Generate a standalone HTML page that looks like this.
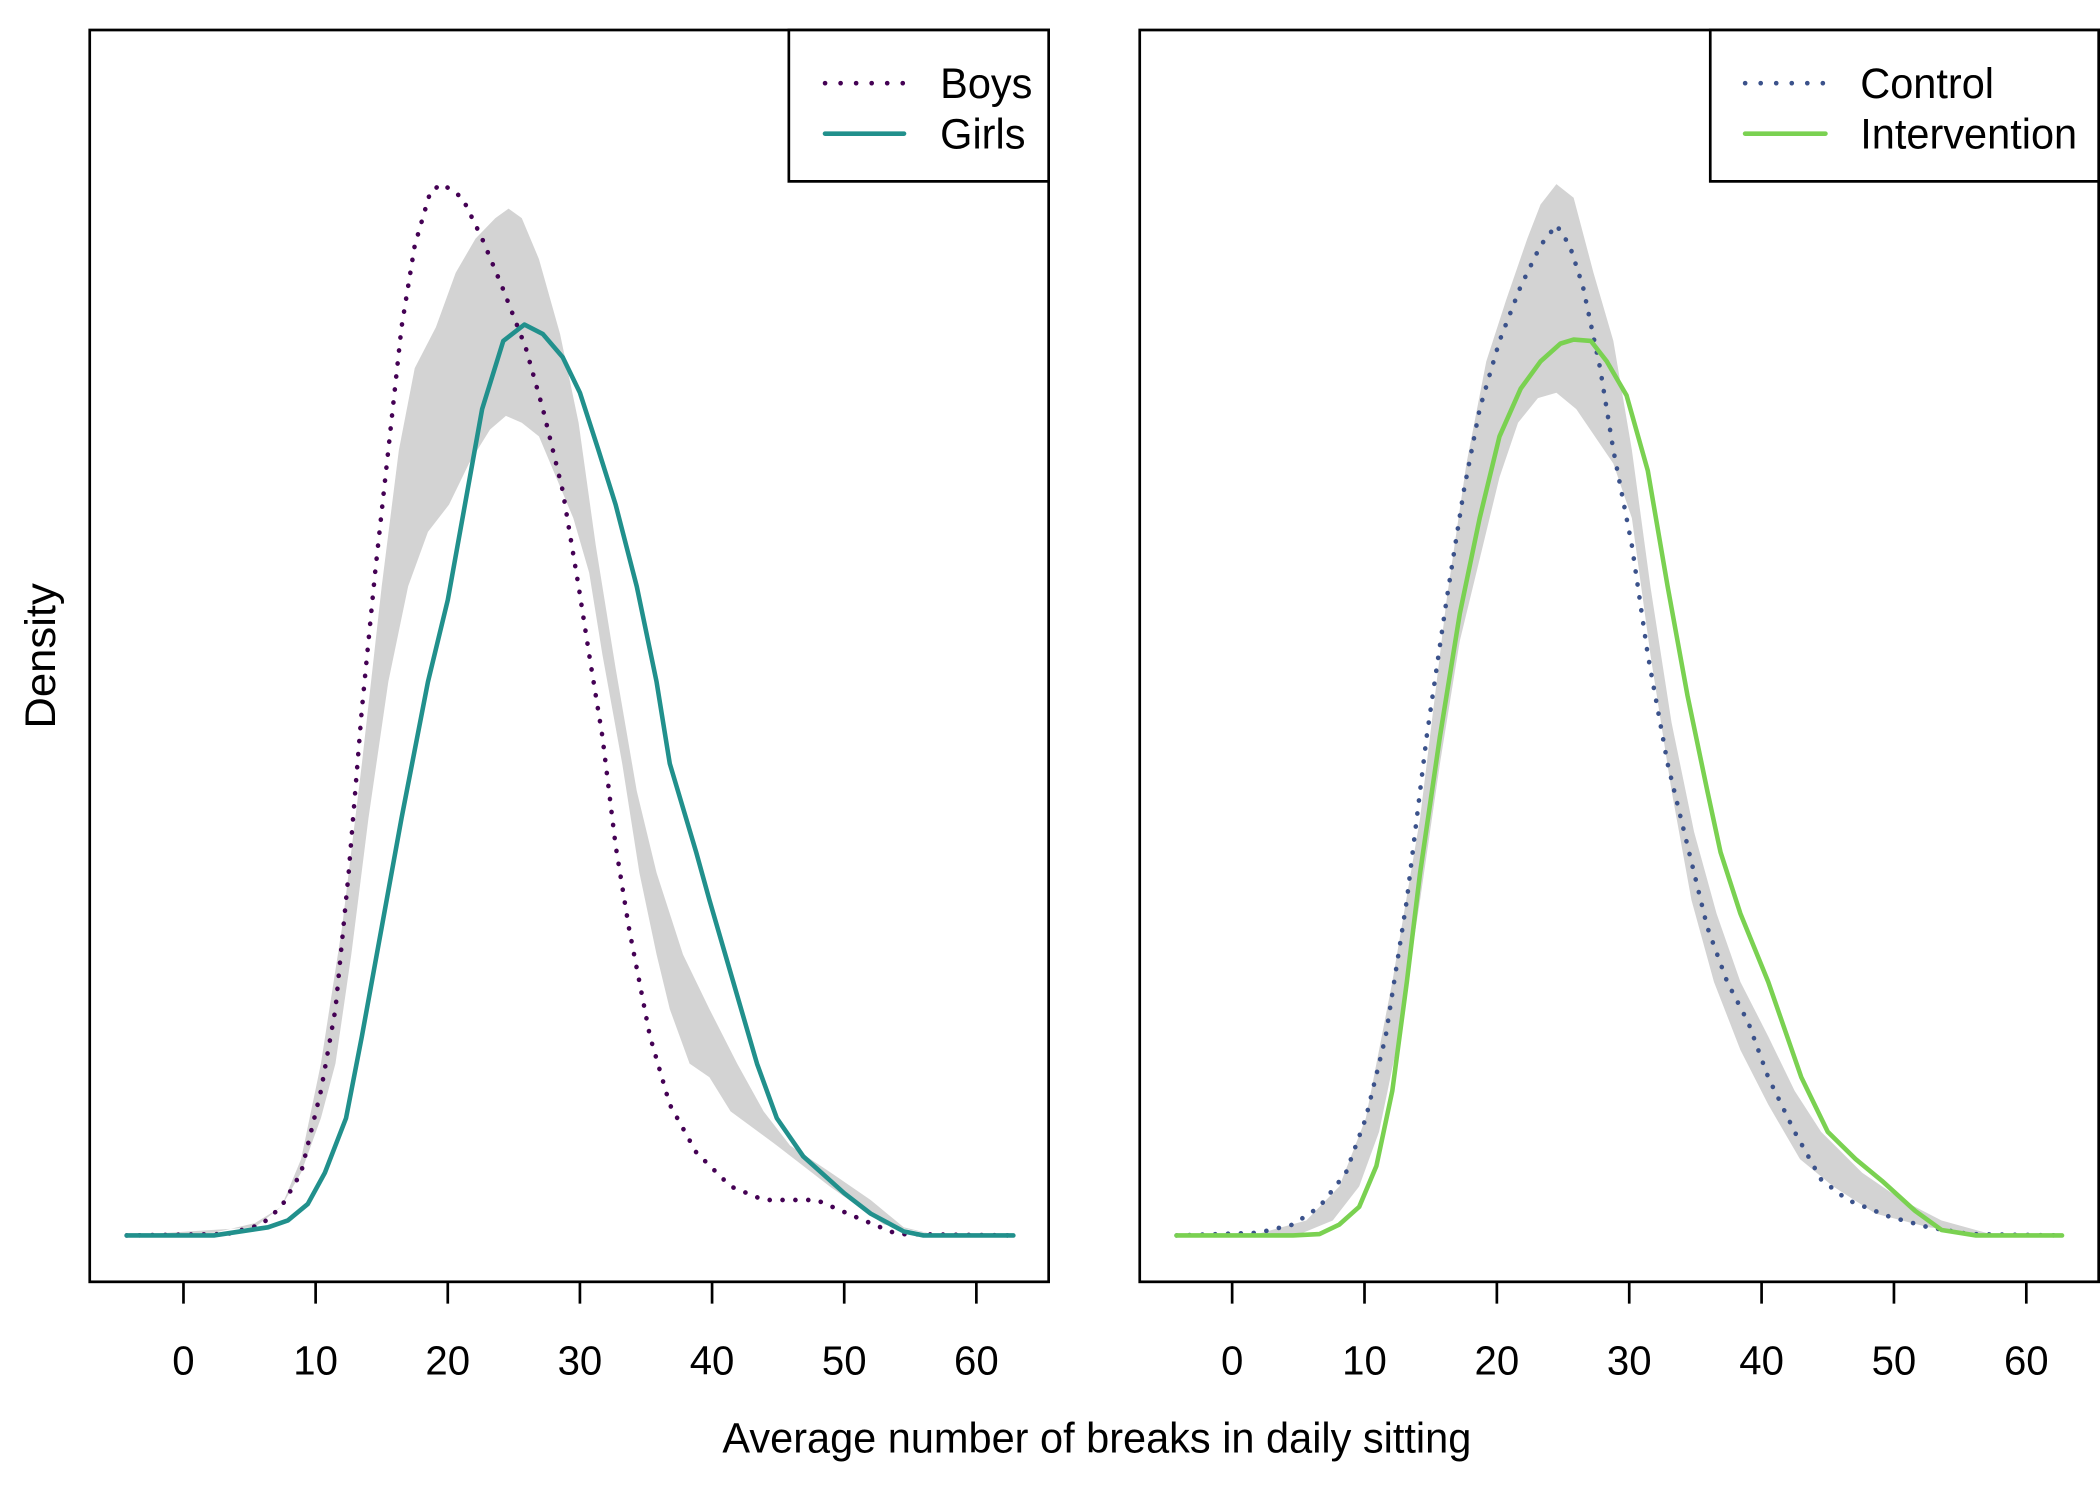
<!DOCTYPE html>
<html><head><meta charset="utf-8"><style>
html,body{margin:0;padding:0;background:#fff}
svg{display:block}
text{font-family:"Liberation Sans",Arial,sans-serif;fill:#000}
</style></head><body>
<svg id="chart" width="2100" height="1500" viewBox="0 0 1568 1100" preserveAspectRatio="none" xmlns="http://www.w3.org/2000/svg"></svg>
<script>
// ---- data (x = breaks, d = density) ----
const boysX=[-4.3,3.3,5.9,7.4,8.9,10.4,11.5,12.5,13.5,14.5,15.5,16.5,17.5,18.7,19.6,21.1,22.6,24.1,25.9,27.2,28.7,29.9,30.7,31.7,32.7,33.7,35.3,36.8,38.8,41.4,43.9,47.9,51,54,62.8];
const boysD=[0,.0001,.0008,.0021,.0046,.0106,.0166,.0266,.0386,.0486,.0576,.0666,.0726,.0766,.0771,.0761,.0731,.0696,.0651,.0606,.0546,.0476,.0426,.0366,.0286,.0226,.0146,.0096,.0061,.0036,.0026,.0026,.0013,.0001,0];
const girlsX=[-4.3,2.3,6.4,7.9,9.4,10.7,12.3,13.5,15,16.5,18.5,20,22.6,24.2,25.8,27.2,28.7,30,31.4,32.7,34.3,35.8,36.8,38.8,39.8,41.3,43.4,44.9,46.9,50,52,54.5,56,62.8];
const girlsD=[0,0,.0006,.0011,.0023,.0046,.0086,.0146,.0226,.0306,.0406,.0466,.0606,.0656,.0668,.0661,.0644,.0618,.0576,.0536,.0476,.0406,.0346,.0281,.0246,.0196,.0126,.0086,.0058,.0031,.0016,.0003,0,0];
const bandLUpX=[-4.3,2.3,5.4,7.4,8.9,10.4,12,13.5,15,16.3,17.5,19.1,20.6,22.1,23.6,24.6,25.6,26.9,28.5,29.9,31.2,32.7,34.3,35.8,37.8,39.8,41.9,43.9,45.9,49,52,54.5,57.1];
const bandLUpD=[0,.0002,.0009,.0021,.0056,.0126,.0226,.0346,.0476,.0576,.0636,.0666,.0706,.0731,.0746,.0753,.0746,.0716,.0661,.0596,.0506,.0416,.0326,.0266,.0206,.0166,.0126,.0091,.0066,.0046,.0026,.0006,0];
const bandLLoX=[-4.3,5.4,7.4,8.9,10.4,11.5,12.7,14,15.5,17,18.5,20.1,21.6,23.2,24.4,25.6,26.9,28.2,29.5,30.7,31.7,33.2,34.5,35.8,36.8,38.3,39.8,41.4,44.9,48.9,53,57.1];
const bandLLoD=[0,.0006,.0021,.0046,.0086,.0126,.0206,.0306,.0406,.0476,.0516,.0536,.0566,.0591,.0601,.0596,.0586,.0556,.0526,.0486,.0426,.0346,.0266,.0206,.0166,.0126,.0116,.0091,.0066,.0036,.0008,0];
const ctrlX=[-4.2,2,4.6,6.6,8.6,10.1,11.6,13.2,14.7,16.2,17.5,18.7,20.2,21.8,23.3,24.5,25.5,26.5,27.8,28.8,30.2,31.4,32.9,34.4,35.9,37.4,39,40.5,42.5,44.5,46.5,49.6,52.6,55.7,62.7];
const ctrlD=[0,.0002,.0008,.0021,.0046,.0086,.0146,.0246,.0366,.0466,.0546,.0606,.0656,.0696,.0726,.0741,.0726,.0696,.0636,.0576,.0506,.0426,.0346,.0286,.0226,.0186,.0156,.0116,.0076,.0041,.0026,.0014,.0006,.0001,0];
const intvX=[-4.2,4.6,6.6,8.1,9.6,10.9,12.1,13.2,14.2,15.7,17.2,18.7,20.2,21.8,23.3,24.8,25.8,27.1,28.3,29.8,31.4,32.9,34.4,35.9,36.9,38.4,40.5,43,45,47.1,49.1,51.6,53.6,56.2,62.7];
const intvD=[0,0,.0001,.0008,.0021,.0051,.0106,.0186,.0266,.0366,.0456,.0526,.0586,.0621,.0641,.0654,.0657,.0656,.0641,.0616,.0561,.0476,.0396,.0326,.0281,.0236,.0186,.0116,.0076,.0056,.0040,.0018,.0004,0,0];
const bandRUpX=[1.5,5.6,8.1,10.1,12.1,14.2,16.2,17.7,19.2,20.7,22.3,23.3,24.5,25.8,27.3,28.8,30.2,31.6,33.2,34.9,36.6,38.4,40.5,42.5,44.5,47.6,50.6,53.6,57.7];
const bandRUpD=[0,.0011,.0036,.0086,.0186,.0306,.0466,.0566,.0641,.0686,.0731,.0756,.0771,.0761,.0706,.0656,.0576,.0476,.0376,.0296,.0236,.0186,.0146,.0106,.0076,.0046,.0026,.0011,0];
const bandRLoX=[1.5,5.1,7.6,9.6,11.1,12.6,14.2,15.7,17.2,18.7,20.2,21.6,23.1,24.5,26,27.4,28.8,30.2,31.6,33.2,34.7,36.4,38.4,40.5,42.9,45.4,48.6,52.6,57.7];
const bandRLoD=[0,.0001,.0011,.0036,.0076,.0146,.0246,.0346,.0436,.0496,.0556,.0596,.0614,.0618,.0606,.0586,.0566,.0526,.0426,.0326,.0246,.0186,.0136,.0096,.0056,.0036,.0016,.0006,0];
const xTicks=[0,10,20,30,40,50,60];

const NS="http://www.w3.org/2000/svg";
const svg=document.getElementById('chart');
function mk(tag,attrs,parent){const e=document.createElementNS(NS,tag);for(const k in attrs)e.setAttribute(k,attrs[k]);(parent||svg).appendChild(e);return e;}
function yS(d){return 906-d*10000;}
const panels=[
 {x0:67,x1:783,org:137,ppu:9.867,name:'sex',
  band:[bandLUpX,bandLUpD,bandLLoX,bandLLoD],
  series:[{x:boysX,d:boysD,col:'#440154',dot:true,label:'Boys',n:'boys'},{x:girlsX,d:girlsD,col:'#21908C',dot:false,label:'Girls',n:'girls'}],
  leg:{x0:589,lx0:616,lx1:675,tx:702}},
 {x0:851,x1:1567,org:920,ppu:9.883,name:'group',
  band:[bandRUpX,bandRUpD,bandRLoX,bandRLoD],
  series:[{x:ctrlX,d:ctrlD,col:'#3B528B',dot:true,label:'Control',n:'control'},{x:intvX,d:intvD,col:'#7AD151',dot:false,label:'Intervention',n:'intervention'}],
  leg:{x0:1277,lx0:1303,lx1:1363,tx:1389}}
];
panels.forEach(p=>{
  const xS=v=>p.org+v*p.ppu;
  const g=mk('g',{});
  
  
  let pts=p.band[0].map((v,i)=>xS(v)+','+yS(p.band[1][i]));
  for(let i=p.band[2].length-1;i>=0;i--)pts.push(xS(p.band[2][i])+','+yS(p.band[3][i]));
  const band=mk('polygon',{points:pts.join(' '),fill:'#d3d3d3',stroke:'none'},g);
  
  
  p.series.forEach(s=>{
    const pl=mk('polyline',{points:s.x.map((v,i)=>xS(v)+','+yS(s.d[i])).join(' '),fill:'none',stroke:s.col,'stroke-width':3.4,'stroke-linejoin':'round','stroke-linecap':'round'},g);
    if(s.dot)pl.setAttribute('stroke-dasharray','0.1 9.5');
    
    
  });
  const box=mk('rect',{x:p.x0,y:22,width:p.x1-p.x0,height:918,fill:'none',stroke:'#000','stroke-width':2},g);
  
  
  xTicks.forEach(t=>{
    const tk=mk('line',{x1:xS(t),x2:xS(t),y1:940,y2:956,stroke:'#000','stroke-width':2},g);
    
    
    const tl=mk('text',{x:xS(t),y:1008,'text-anchor':'middle','font-size':30},g);
    tl.textContent=t;
    
    
  });
  const lg=mk('g',{},g);
  
  
  mk('rect',{x:p.leg.x0,y:22,width:p.x1-p.leg.x0,height:111,fill:'#fff',stroke:'#000','stroke-width':2},lg);
  p.series.forEach((s,i)=>{
    const yy=61+i*37;
    const ln=mk('line',{x1:p.leg.lx0,x2:p.leg.lx1,y1:yy,y2:yy,stroke:s.col,'stroke-width':3.4,'stroke-linecap':'round'},lg);
    if(s.dot)ln.setAttribute('stroke-dasharray','0.1 11.5');
    
    
    const tx=mk('text',{x:p.leg.tx,y:yy+11,'font-size':31},lg);
    tx.textContent=s.label;
    
    
  });
});
const yt=mk('text',{x:0,y:0,'font-size':32,'text-anchor':'middle',transform:'translate(41,481) rotate(-90)'});
yt.textContent='Density';


const xt=mk('text',{x:819,y:1065,'font-size':31,'text-anchor':'middle'});
xt.textContent='Average number of breaks in daily sitting';


</script>
</body></html>
